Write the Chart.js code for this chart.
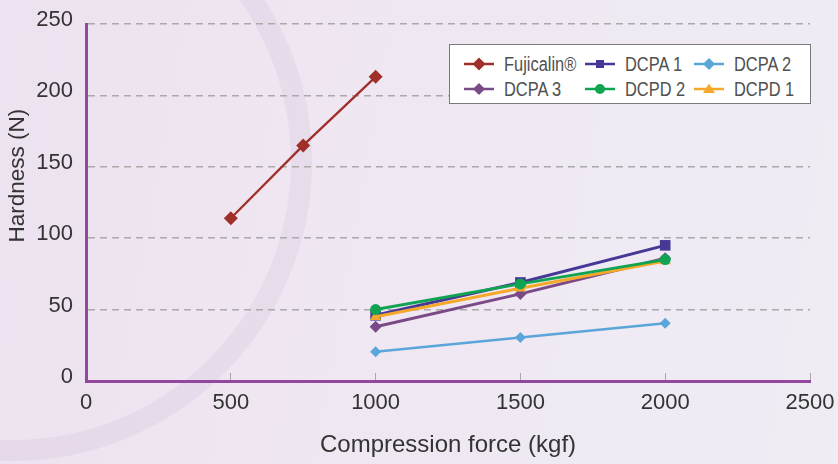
<!DOCTYPE html>
<html>
<head>
<meta charset="utf-8">
<script src="https://cdn.jsdelivr.net/npm/chart.js@4"></script>
<style>
  html, body { margin: 0; padding: 0; }
  body { width: 838px; height: 464px; overflow: hidden; position: relative;
    background: linear-gradient(100deg, #ede2ef 0%, #efe7f2 45%, #efecf4 100%); }
  #ring { position: absolute; left: -287px; top: -138px; width: 599px; height: 599px;
    border-radius: 50%; border: 21px solid rgba(200, 180, 212, 0.2); box-sizing: border-box; }
  #c { position: absolute; left: 0; top: 0; }
  #legend { position: absolute; left: 449px; top: 44px; width: 360px; height: 58px;
    background: #fff; border: 1.5px solid #7a7a7a; }
  .item { position: absolute; height: 24px; display: flex; align-items: center; }
  .item span { font-family: "Liberation Sans", Arial, sans-serif; font-size: 20px; color: #505050;
    margin-left: 10px; white-space: nowrap; display: inline-block;
    transform: scaleX(0.82); transform-origin: left center; }
</style>
</head>
<body>
<div id="ring"></div>
<canvas id="c" width="838" height="464"></canvas>
<div id="legend"></div>
<script>
// ---- data ----
const seriesNames = ["Fujicalin®", "DCPA 1", "DCPA 2", "DCPA 3", "DCPD 2", "DCPD 1"];
const forceFujicalin = [500, 750, 1000];
const hardnessFujicalin = [114, 165, 213];
const forceDCP = [1000, 1500, 2000];
const hardnessDCPA1 = [46, 69, 95];
const hardnessDCPA2 = [20.5, 30.5, 40.5];
const hardnessDCPA3 = [38, 61, 86];
const hardnessDCPD2 = [50, 68, 85];
const hardnessDCPD1 = [45, 65, 84];
const xTitle = "Compression force (kgf)";
const yTitle = "Hardness (N)";
const xMin = 0, xMax = 2500, xStep = 500;
const yMin = 0, yMax = 250, yStep = 50;

// ---- styles ----
const colors = ["#a02f2a", "#463895", "#5aa5d9", "#7a4a86", "#10a452", "#f5a82a"];
const shapes = ["rectRot", "rect", "rectRot", "rectRot", "circle", "triangle"];
const radii = [7, 7.5, 5.5, 6, 5.5, 6.5];
const widths = [2.3, 3, 2.5, 3, 3, 3];
const orders = [5, 3, 4, 2, 0, 1];
const xs = [forceFujicalin, forceDCP, forceDCP, forceDCP, forceDCP, forceDCP];
const ys = [hardnessFujicalin, hardnessDCPA1, hardnessDCPA2, hardnessDCPA3, hardnessDCPD2, hardnessDCPD1];

const datasets = seriesNames.map((name, i) => ({
  label: name,
  data: xs[i].map((x, j) => ({ x: x, y: ys[i][j] })),
  borderColor: colors[i],
  backgroundColor: colors[i],
  pointBackgroundColor: colors[i],
  pointBorderColor: colors[i],
  pointBorderWidth: 0,
  pointStyle: shapes[i],
  pointRadius: radii[i],
  pointHoverRadius: radii[i],
  borderWidth: widths[i],
  order: orders[i],
  tension: 0,
  fill: false
}));

const axisColor = "#93479e";
const textColor = "#333333";
const tickFont = { family: "'Liberation Sans', Arial, sans-serif", size: 22 };

const yTitlePlugin = {
  id: "yTitle",
  afterDraw(chart) {
    const ctx = chart.ctx, a = chart.chartArea;
    ctx.save();
    ctx.translate(18, a.top + (a.bottom - a.top) * 0.425);
    ctx.rotate(-Math.PI / 2);
    ctx.font = "22.5px 'Liberation Sans', Arial, sans-serif";
    ctx.fillStyle = textColor;
    ctx.textAlign = "center";
    ctx.textBaseline = "middle";
    ctx.fillText(yTitle, 0, 0);
    ctx.restore();
  }
};

new Chart(document.getElementById("c"), {
  type: "line",
  data: { datasets: datasets },
  plugins: [yTitlePlugin],
  options: {
    responsive: false,
    animation: false,
    devicePixelRatio: 1,
    layout: { padding: { top: 24, right: 28, left: 0, bottom: 0 } },
    plugins: { legend: { display: false }, tooltip: { enabled: false } },
    scales: {
      x: {
        type: "linear", min: xMin, max: xMax,
        ticks: { stepSize: xStep, font: tickFont, color: textColor, padding: 17, maxRotation: 0,
                 callback: (v) => String(v) },
        grid: { drawOnChartArea: false, drawTicks: true, tickLength: -8, color: "#a8a8a8", lineWidth: 1 },
        border: { display: true, color: axisColor, width: 3 },
        title: { display: true, text: xTitle, color: textColor,
                 font: { family: "'Liberation Sans', Arial, sans-serif", size: 24 }, padding: { top: 0, bottom: 4 } },
        afterFit(scale) { scale.height = 83; scale.paddingLeft = 0; scale.paddingRight = 0; }
      },
      y: {
        type: "linear", min: yMin, max: yMax,
        ticks: { stepSize: yStep, font: tickFont, color: textColor, padding: 13, labelOffset: -4,
                 callback: (v) => String(v) },
        grid: { drawTicks: false, lineWidth: 1.5,
                color: (c) => (c.tick && c.tick.value === 0) ? "rgba(0,0,0,0)" : "#aaaaaa" },
        border: { display: true, color: axisColor, width: 3, dash: [7, 5] },
        afterFit(scale) { scale.width = 86; scale.paddingTop = 0; scale.paddingBottom = 0; }
      }
    }
  }
});

// ---- legend (HTML, built from the series arrays) ----
function markerSvg(i) {
  const c = colors[i];
  let m = "";
  if (shapes[i] === "rectRot") { const r = i === 0 ? 6.5 : 6; m = `<polygon points="15,${7-r} ${15+r},7 15,${7+r} ${15-r},7" fill="${c}"/>`; }
  else if (shapes[i] === "rect") m = `<rect x="11" y="3" width="8" height="8" fill="${c}"/>`;
  else if (shapes[i] === "circle") m = `<circle cx="15" cy="7" r="5" fill="${c}"/>`;
  else m = `<polygon points="15,1.5 21,11 9,11" fill="${c}"/>`;
  return `<svg width="30" height="14" viewBox="0 0 30 14"><line x1="0" y1="7" x2="30" y2="7" stroke="${c}" stroke-width="2.5"/>${m}</svg>`;
}
const legendCols = [14, 135, 244];
const legendRows = [7, 32];
const legend = document.getElementById("legend");
seriesNames.forEach((name, i) => {
  const d = document.createElement("div");
  d.className = "item";
  d.style.left = legendCols[i % 3] + "px";
  d.style.top = legendRows[Math.floor(i / 3)] + "px";
  d.innerHTML = markerSvg(i) + "<span></span>";
  d.querySelector("span").textContent = name;
  legend.appendChild(d);
});
</script>
</body>
</html>
